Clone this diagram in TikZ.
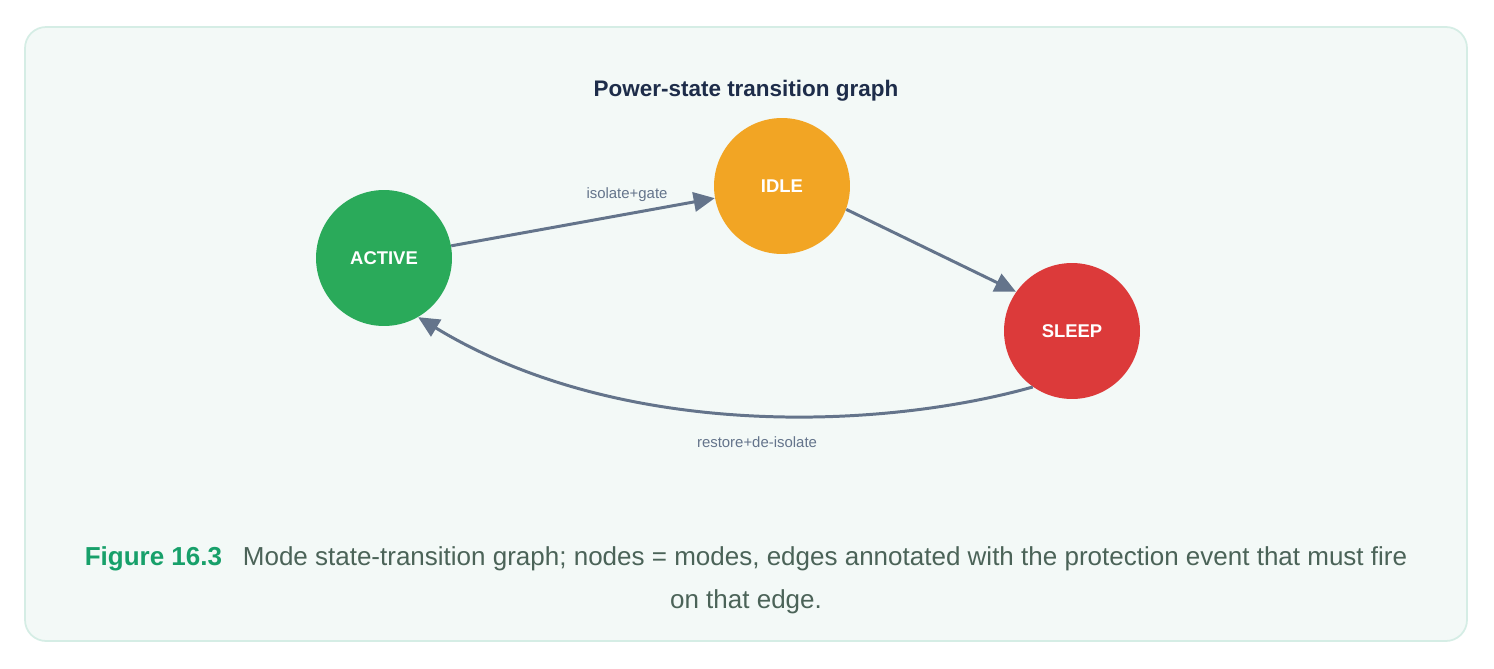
\documentclass[tikz,border=0pt]{standalone}
\usepackage{fontspec}
\setmainfont{Liberation Sans}
\usetikzlibrary{arrows.meta}
\definecolor{panelbg}{HTML}{F3F9F7}
\definecolor{panelline}{HTML}{D5EDE5}
\definecolor{edgecol}{HTML}{64748B}
\definecolor{activecol}{HTML}{2AAA5A}
\definecolor{idlecol}{HTML}{F2A524}
\definecolor{sleepcol}{HTML}{DC3A3A}
\definecolor{titlecol}{HTML}{1E2D4A}
\definecolor{figcol}{HTML}{17A06A}
\definecolor{captcol}{HTML}{4B6358}
\begin{document}
\begin{tikzpicture}[x=0.02cm,y=-0.02cm,
  state/.style={circle,minimum size=2.72cm,inner sep=0pt,text=white,font=\fontsize{10.5}{12}\selectfont\bfseries},
  trans/.style={draw=edgecol,line width=1.7pt,-{Triangle[length=12pt,width=11pt]}},
  lbl/.style={text=edgecol,font=\fontsize{8.5}{10}\selectfont}]
\useasboundingbox (0,0) rectangle (1494,669);
% panel
\draw[panelline,fill=panelbg,line width=1pt,rounded corners=12pt] (25,27) rectangle (1467,641);
\node[text=titlecol,font=\fontsize{12.8}{14}\selectfont\bfseries] (title) at (746,91) {Power-state transition graph};
% states
\node[state,fill=activecol] (active) at (384,258) {ACTIVE};
\node[state,fill=idlecol] (idle) at (782,186) {IDLE};
\node[state,fill=sleepcol] (sleep) at (1072,331) {SLEEP};
% transitions
\draw[trans] (active) -- (idle);
\node[lbl] (l1) at (627,195) {isolate+gate};
\draw[trans] (idle.-20) -- (sleep.145);
\draw[trans] (sleep.-125) .. controls (880,430) and (620,440) .. (active.-60);
\node[lbl] (l2) at (757,442) {restore+de-isolate};
% caption
\node[align=center,text=captcol,font=\fontsize{14.8}{24.5}\selectfont] (caption) at (746,580)
  {{\color{figcol}\bfseries Figure 16.3}\hspace{0.8em}Mode state-transition graph; nodes = modes, edges annotated with the protection event that must fire\\ on that edge.};
\end{tikzpicture}
\end{document}
